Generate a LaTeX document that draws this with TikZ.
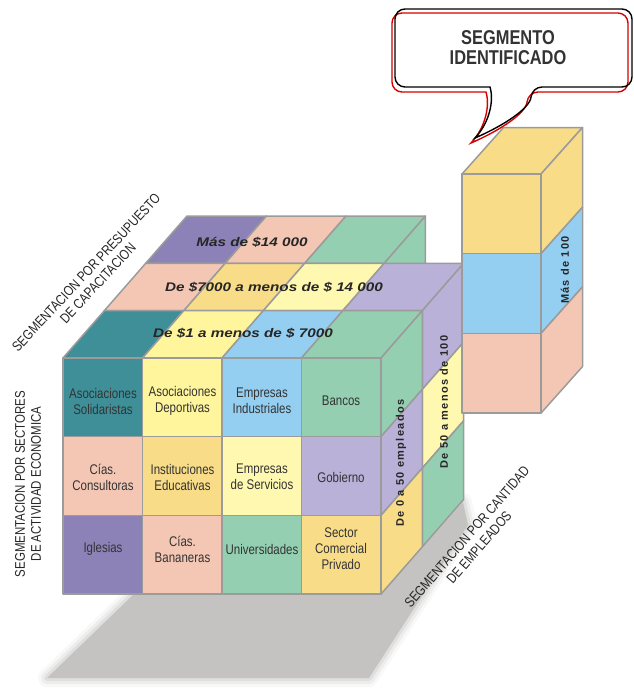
\documentclass[tikz,border=0pt]{standalone}
\usepackage{fontspec}
\setmainfont{Liberation Sans}
\newfontfamily\narrow[FakeStretch=0.82]{Liberation Sans}
\newfontfamily\wideit[FakeStretch=1.22]{Liberation Sans}
\newfontfamily\spaced[LetterSpace=12]{Liberation Sans}

\definecolor{cTeal}{HTML}{3F8F99}
\definecolor{cYel}{HTML}{FFF59C}
\definecolor{cBlue}{HTML}{94CFF2}
\definecolor{cGreen}{HTML}{95CFB1}
\definecolor{cPink}{HTML}{F4C7B5}
\definecolor{cGold}{HTML}{F8DC88}
\definecolor{cPale}{HTML}{FFF8B0}
\definecolor{cLav}{HTML}{B9B1D7}
\definecolor{cPurp}{HTML}{8D82B7}
\definecolor{cEdge}{HTML}{9B9B9B}
\definecolor{cShadow}{HTML}{C4C3C2}
\definecolor{cText}{HTML}{333333}

\begin{document}
\begin{tikzpicture}[x=1pt,y=-1pt,
    face/.style={draw=cEdge,line width=1.5pt,line join=round},
    cell/.style={font=\narrow\fontsize{14}{16}\selectfont,text=cText,align=center},
    toplbl/.style={font=\wideit\bfseries\itshape\fontsize{12.5}{14}\selectfont,text=black!85},
    sidelbl/.style={rotate=90,font=\spaced\bfseries\fontsize{11}{12}\selectfont,text=black!85},
    axislbl/.style={font=\narrow\fontsize{14}{16}\selectfont,text=black!85,align=center}]
  \useasboundingbox (0,0) rectangle (634,689);

  % shadow under the cube
  \foreach \w/\o in {18/0.12,12/0.2,6/0.35}
    \draw[cShadow,line width=\w pt,opacity=\o,line join=round]
      (134,594) -- (381,594) -- (463,502) -- (468,525) -- (369,678) -- (47,678) -- cycle;
  \fill[cShadow] (134,594) -- (381,594) -- (463,502) -- (468,525) -- (369,678) -- (47,678) -- cycle;

  % the cube, back layer first
  \begin{scope}[shift={(63,358)},x={(79.5pt,0pt)},y={(0pt,-78.7pt)},z={(41.3pt,47.3pt)}]
    \foreach \c [count=\i from 0] in {cPurp,cPink,cGreen}
      \filldraw[face,fill=\c] (\i,0,2) -- ++(1,0,0) -- ++(0,0,1) -- ++(-1,0,0) -- cycle;
    \filldraw[face,fill=cGreen] (3,0,2) -- (3,0,3) -- (3,1,3) -- (3,1,2) -- cycle;

    % middle layer
    \foreach \c [count=\i from 0] in {cPink,cGold,cPale,cLav}
      \filldraw[face,fill=\c] (\i,0,1) -- ++(1,0,0) -- ++(0,0,1) -- ++(-1,0,0) -- cycle;
    \foreach \c [count=\j from 0] in {cLav,cPale,cGreen}
      \filldraw[face,fill=\c] (4,\j,1) -- ++(0,0,1) -- ++(0,1,0) -- ++(0,0,-1) -- cycle;

    % front layer
    \foreach \c [count=\i from 0] in {cTeal,cYel,cBlue,cGreen}
      \filldraw[face,fill=\c] (\i,0,0) -- ++(1,0,0) -- ++(0,0,1) -- ++(-1,0,0) -- cycle;
    \foreach \c [count=\j from 0] in {cGreen,cLav,cGold}
      \filldraw[face,fill=\c] (4,\j,0) -- ++(0,0,1) -- ++(0,1,0) -- ++(0,0,-1) -- cycle;

    % front face
    \foreach \c [count=\i from 0] in {cTeal,cYel,cBlue,cGreen}
      \filldraw[face,fill=\c] (\i,0) rectangle ++(1,1);
    \foreach \c [count=\i from 0] in {cPink,cGold,cPale,cLav}
      \filldraw[face,fill=\c] (\i,1) rectangle ++(1,1);
    \foreach \c [count=\i from 0] in {cPurp,cPink,cGreen,cGold}
      \filldraw[face,fill=\c] (\i,2) rectangle ++(1,1);
  \end{scope}

  % the column taken out
  \begin{scope}[shift={(462,174)},x={(79pt,0pt)},y={(0pt,-79.7pt)},z={(41.5pt,46.5pt)}]
    \filldraw[face,fill=cGold] (0,0,0) -- (1,0,0) -- (1,0,1) -- (0,0,1) -- cycle;
    \foreach \c [count=\j from 0] in {cGold,cBlue,cPink}
      {\filldraw[face,fill=\c] (0,\j) rectangle ++(1,1);
       \filldraw[face,fill=\c] (1,\j,0) -- ++(0,0,1) -- ++(0,1,0) -- ++(0,0,-1) -- cycle;}
  \end{scope}

  % sectors on the front face
  \node (AS) [cell] at (103,401)   {Asociaciones\\Solidaristas};
  \node (AD) [cell] at (182.5,401) {Asociaciones\\Deportivas};
  \node (EI) [cell] at (262,401)   {Empresas\\Industriales};
  \node (BA) [cell] at (341,401)   {Bancos};
  \node (CC) [cell] at (103,477)   {Cías.\\Consultoras};
  \node (IE) [cell] at (182.5,477) {Instituciones\\Educativas};
  \node (ES) [cell] at (262,477)   {Empresas\\de Servicios};
  \node (GO) [cell] at (341,477)   {Gobierno};
  \node (IG) [cell] at (103,549)   {Iglesias};
  \node (CB) [cell] at (182.5,549) {Cías.\\Bananeras};
  \node (UN) [cell] at (262,549)   {Universidades};
  \node (SC) [cell] at (341,549)   {Sector\\Comercial\\Privado};

  % budget rows on top
  \node (P1) [toplbl] at (243,333) {De \$1 a menos de \$ 7000};
  \node (P2) [toplbl] at (274,287) {De \$7000 a menos de \$ 14 000};
  \node (P3) [toplbl] at (252,242) {Más de \$14 000};

  % employee layers on the side
  \node (E1) [sidelbl] at (401,463) {De 0 a 50 empleados};
  \node (E2) [sidelbl] at (444,402) {De 50 a menos de 100};
  \node (E3) [sidelbl] at (565,270) {Más de 100};

  % axis titles
  \node (LP) [axislbl,rotate=47] at (92,278)  {SEGMENTACION POR PRESUPUESTO\\DE CAPACITACION};
  \node (LS) [axislbl,rotate=90] at (28,484)  {SEGMENTACION POR SECTORES\\DE ACTIVIDAD ECONOMICA};
  \node (LC) [axislbl,rotate=49] at (473,542) {SEGMENTACION POR CANTIDAD\\DE EMPLEADOS};

  % callout
  \fill[white,rounded corners=10] (486,92) -- (392,92) -- (392,13) -- (628,13) -- (628,92) -- (528,92)
    [sharp corners] .. controls (526,113) and (501,130) .. (471,143) .. controls (486,127) and (490,105) .. cycle;
  \fill[white,rounded corners=10] (490,87) -- (395,87) -- (395,9) -- (632,9) -- (632,87) -- (532,87)
    [sharp corners] .. controls (530,108) and (505,125) .. (475,138) .. controls (490,122) and (494,100) .. cycle;
  \draw[red!85!black,line width=1.4pt,rounded corners=10] (486,92) -- (392,92) -- (392,13) -- (628,13) -- (628,92) -- (528,92)
    [sharp corners] .. controls (526,113) and (501,130) .. (471,143) .. controls (486,127) and (490,105) .. cycle;
  \draw[black,line width=1.4pt,rounded corners=10] (490,87) -- (395,87) -- (395,9) -- (632,9) -- (632,87) -- (532,87)
    [sharp corners] .. controls (530,108) and (505,125) .. (475,138) .. controls (490,122) and (494,100) .. cycle;
  \node (ST) [font=\narrow\bfseries\fontsize{20}{20}\selectfont,text=cText,align=center] at (508,48) {SEGMENTO\\IDENTIFICADO};
\end{tikzpicture}
\end{document}
